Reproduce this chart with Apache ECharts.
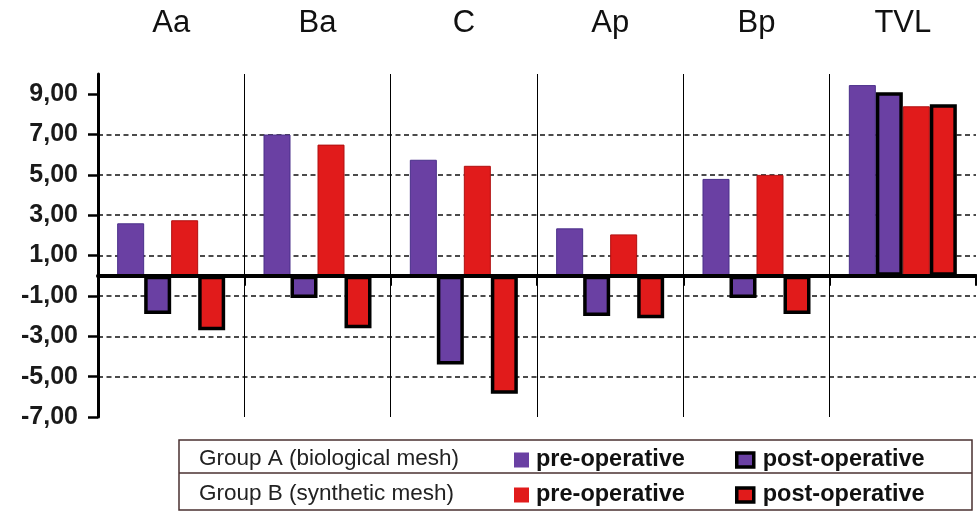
<!DOCTYPE html>
<html>
<head>
<meta charset="utf-8">
<script src="https://cdn.jsdelivr.net/npm/echarts@6/dist/echarts.min.js"></script>
<style>
  html, body { margin: 0; padding: 0; background: #fff; }
  #chart { width: 977px; height: 513px; }
</style>
</head>
<body>
<div id="chart"></div>
<script>
const categories = ['Aa', 'Ba', 'C', 'Ap', 'Bp', 'TVL'];
const groupAPre  = [2.6, 7.0, 5.75, 2.35, 4.8, 9.45];
const groupAPost = [-1.9, -1.1, -4.4, -2.0, -1.1, 9.1];
const groupBPre  = [2.75, 6.5, 5.45, 2.05, 5.0, 8.4];
const groupBPost = [-2.7, -2.6, -5.85, -2.1, -1.9, 8.5];
const yTicks = [-7, -5, -3, -1, 1, 3, 5, 7, 9];
const groupLabels = ['Group A (biological mesh)', 'Group B (synthetic mesh)'];
const seriesNames = ['Group A pre-operative', 'Group A post-operative', 'Group B pre-operative', 'Group B post-operative'];

const FONT = 'Liberation Sans, Arial, sans-serif';
const PURPLE = '#6a40a3';
const RED = '#e11b1b';

const chart = echarts.init(document.getElementById('chart'));

function legendItem(name, left, top, isPost, color) {
  return {
    data: [name],
    left: left,
    top: top,
    padding: 0,
    itemGap: 0,
    icon: 'rect',
    selectedMode: false,
    itemWidth: isPost ? 17 : 15,
    itemHeight: isPost ? 14 : 15,
    itemStyle: isPost ? { color: color, borderColor: '#000', borderWidth: 3.5 } : { color: color, borderWidth: 0 },
    formatter: n => n.replace(/^Group [AB] /, ''),
    textStyle: { fontFamily: FONT, fontSize: 23.5, fontWeight: 'bold', color: '#111', padding: isPost ? [0, 0, 0, 4] : [0, 0, 0, 2] }
  };
}

const option = {
  backgroundColor: '#fff',
  animation: false,
  grid: { left: 98, right: 1, top: 74, bottom: 96, containLabel: false },
  xAxis: [
    {
      type: 'category',
      data: categories,
      z: 3,
      axisLine: { show: true, onZero: true, lineStyle: { color: '#000', width: 4 } },
      axisTick: { show: true, length: 10, lineStyle: { color: '#000', width: 2 } },
      axisLabel: { show: false },
      splitLine: { show: true, showMinLine: false, showMaxLine: false, lineStyle: { color: '#000', width: 1 } }
    },
    {
      type: 'category',
      data: categories,
      position: 'top',
      axisLine: { show: false, onZero: false },
      axisTick: { show: false },
      splitLine: { show: false },
      axisLabel: { show: true, margin: 35, fontFamily: FONT, fontSize: 31, color: '#111' }
    }
  ],
  yAxis: {
    type: 'value',
    min: -7,
    max: 10,
    interval: 2,
    axisLine: { show: true, lineStyle: { color: '#000', width: 3 } },
    axisTick: { show: true, length: 10, customValues: yTicks, lineStyle: { color: '#000', width: 2.5 } },
    axisLabel: {
      show: true, margin: 20, customValues: yTicks,
      fontFamily: FONT, fontSize: 25, fontWeight: 'bold', color: '#1a1a1a',
      formatter: v => v.toFixed(2).replace('.', ',')
    },
    splitLine: { show: true, showMinLine: false, showMaxLine: false, lineStyle: { color: '#111', width: 1.6, type: [5, 3.5] } }
  },
  legend: [
    legendItem(seriesNames[0], 514, 448, false, PURPLE),
    legendItem(seriesNames[1], 735, 448, true, PURPLE),
    legendItem(seriesNames[2], 514, 483, false, RED),
    legendItem(seriesNames[3], 735, 483, true, RED)
  ],
  graphic: [
    { type: 'rect', shape: { x: 179, y: 440, width: 793, height: 70 }, style: { fill: 'none', stroke: '#4a3030', lineWidth: 1.5 } },
    { type: 'line', shape: { x1: 179, y1: 473, x2: 972, y2: 473 }, style: { stroke: '#4a3030', lineWidth: 1.5 } },
    { type: 'text', x: 199, y: 459, style: { text: groupLabels[0], fontFamily: FONT, fontSize: 22.5, fill: '#222', verticalAlign: 'middle' } },
    { type: 'text', x: 199, y: 494, style: { text: groupLabels[1], fontFamily: FONT, fontSize: 22.5, fill: '#222', verticalAlign: 'middle' } }
  ],
  series: [
    { name: seriesNames[0], type: 'bar', data: groupAPre, barWidth: 27, barGap: '0%',
      itemStyle: { color: PURPLE, borderColor: '#4a2f8a', borderWidth: 1 } },
    { name: seriesNames[1], type: 'bar', data: groupAPost, barWidth: 27, barGap: '0%',
      itemStyle: { color: PURPLE, borderColor: '#000', borderWidth: 3.5 } },
    { name: seriesNames[2], type: 'bar', data: groupBPre, barWidth: 27, barGap: '0%',
      itemStyle: { color: RED, borderColor: '#b01010', borderWidth: 1 } },
    { name: seriesNames[3], type: 'bar', data: groupBPost, barWidth: 27, barGap: '0%',
      itemStyle: { color: RED, borderColor: '#000', borderWidth: 3.5 } }
  ]
};

chart.setOption(option);
</script>
</body>
</html>
